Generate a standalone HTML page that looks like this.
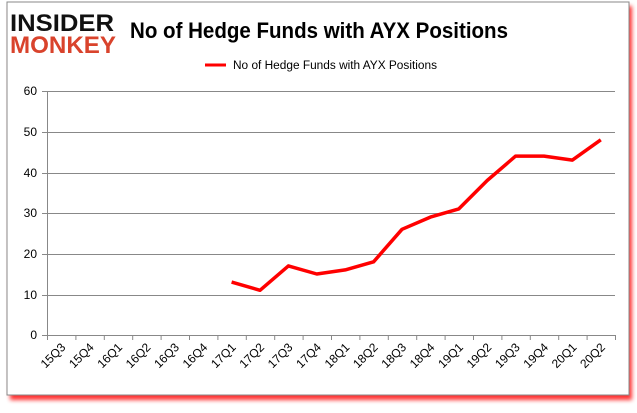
<!DOCTYPE html>
<html><head><meta charset="utf-8"><style>
body{margin:0;background:#fff;width:637px;height:408px;overflow:hidden;font-family:"Liberation Sans",sans-serif}
</style></head><body>
<svg width="637" height="408" xmlns="http://www.w3.org/2000/svg">
<defs><filter id="sh" x="-5%" y="-5%" width="110%" height="110%"><feGaussianBlur stdDeviation="2"/></filter></defs>
<rect x="10" y="6" width="622" height="394" fill="#f00" opacity="0.8" filter="url(#sh)"/>
<rect x="7" y="2" width="622" height="393" fill="#fff" stroke="#888" stroke-width="1"/>
<text x="10" y="31" font-family="Liberation Sans, sans-serif" font-weight="900" font-size="24" fill="#111" textLength="104" lengthAdjust="spacingAndGlyphs">INSIDER</text>
<text x="10" y="53" font-family="Liberation Sans, sans-serif" font-weight="900" font-size="24" fill="#d9432c" textLength="106" lengthAdjust="spacingAndGlyphs">MONKEY</text>
<text x="130" y="38" font-family="Liberation Sans, sans-serif" font-weight="bold" font-size="22" fill="#000" textLength="378" lengthAdjust="spacingAndGlyphs">No of Hedge Funds with AYX Positions</text>
<line x1="205" y1="65" x2="226" y2="65" stroke="#f00" stroke-width="3"/>
<text x="233" y="69" font-size="11.5" fill="#000" textLength="204" lengthAdjust="spacingAndGlyphs">No of Hedge Funds with AYX Positions</text>
<g stroke="#888" stroke-width="1">
<line x1="42" y1="91.5" x2="615" y2="91.5"/><line x1="42" y1="132.5" x2="615" y2="132.5"/>
<line x1="42" y1="173.5" x2="615" y2="173.5"/><line x1="42" y1="213.5" x2="615" y2="213.5"/>
<line x1="42" y1="254.5" x2="615" y2="254.5"/><line x1="42" y1="295.5" x2="615" y2="295.5"/>
<line x1="42" y1="335.5" x2="615" y2="335.5"/><line x1="47.5" y1="91" x2="47.5" y2="340"/>
</g>
<g font-size="12" fill="#000" text-anchor="end">
<text x="37" y="95">60</text><text x="37" y="136">50</text><text x="37" y="177">40</text>
<text x="37" y="217">30</text><text x="37" y="258">20</text><text x="37" y="299">10</text><text x="37" y="339">0</text>
</g>
<g id="ticks" stroke="#888"></g>
<g id="labels" font-size="12" fill="#000" text-anchor="end"></g>
<polyline id="ln" fill="none" stroke="#f00" stroke-width="3.5" stroke-linejoin="round"/>
</svg>
<script>
var labs=["15Q3","15Q4","16Q1","16Q2","16Q3","16Q4","17Q1","17Q2","17Q3","17Q4","18Q1","18Q2","18Q3","18Q4","19Q1","19Q2","19Q3","19Q4","20Q1","20Q2"];
var vals=[null,null,null,null,null,null,13,11,17,15,16,18,26,29,31,38,44,44,43,48];
var NS="http://www.w3.org/2000/svg",t=document.getElementById("ticks"),L=document.getElementById("labels"),pts=[];
for(var i=0;i<=20;i++){var x=47.5+i*28.4;var l=document.createElementNS(NS,"line");l.setAttribute("x1",x);l.setAttribute("x2",x);l.setAttribute("y1",335);l.setAttribute("y2",340);t.appendChild(l);}
labs.forEach(function(s,i){var cx=47+(i+0.5)*28.4;var e=document.createElementNS(NS,"text");e.setAttribute("transform","translate("+(cx+5)+",348) rotate(-45)");e.textContent=s;L.appendChild(e);
if(vals[i]!=null)pts.push(cx.toFixed(1)+","+(335-vals[i]*4.067).toFixed(1));});
document.getElementById("ln").setAttribute("points",pts.join(" "));
</script>
</body></html>
